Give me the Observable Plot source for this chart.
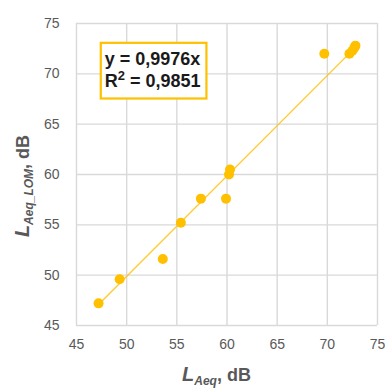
<!DOCTYPE html>
<html>
<head>
<meta charset="utf-8">
<script src="https://cdn.jsdelivr.net/npm/d3@7"></script>
<script src="https://cdn.jsdelivr.net/npm/@observablehq/plot@0.6"></script>
<style>
  body { margin: 0; background: #fff; }
  svg { font-family: "Liberation Sans", "DejaVu Sans", sans-serif; }
</style>
</head>
<body>
<div id="chart"></div>
<script>
// Measured L_Aeq (x) vs L_Aeq_LOM (y), dB
const laeq    = [47.2, 49.3, 53.6, 55.4, 57.4, 59.9, 60.3, 60.2, 69.7, 72.2, 72.5, 72.7, 72.8];
const laeqLom = [47.2, 49.6, 51.6, 55.2, 57.6, 57.6, 60.5, 60.0, 72.0, 72.0, 72.3, 72.6, 72.8];
const ticks = [45, 50, 55, 60, 65, 70, 75];
const slope = 0.9976;
const r2 = "0,9851";
const eqText = "y = 0,9976x";

const points = laeq.map((x, i) => ({x, y: laeqLom[i]}));
const xmin = d3.min(laeq), xmax = d3.max(laeq);
const trend = [{x: xmin, y: slope * xmin}, {x: xmax, y: slope * xmax}];

const orange = "#FFC000";
const grid = "#d9d9d9";

const plot = Plot.plot({
  width: 385,
  height: 391,
  marginLeft: 76,
  marginRight: 8,
  marginTop: 23,
  marginBottom: 66,
  style: {fontSize: "14px", color: "#595959", fontFamily: "Liberation Sans, DejaVu Sans, sans-serif"},
  x: {domain: [45, 75], ticks: ticks, tickSize: 0, tickPadding: 14, label: null},
  y: {domain: [45, 75], ticks: ticks, tickSize: 0, tickPadding: 17, label: null},
  marks: [
    Plot.ruleX(ticks, {stroke: grid, strokeWidth: 1.4}),
    Plot.ruleY(ticks, {stroke: grid, strokeWidth: 1.4}),
    Plot.axisX({ticks: ticks, tickSize: 0, tickPadding: 14, fill: "#595959", label: null}),
    Plot.axisY({ticks: ticks, tickSize: 0, tickPadding: 17, fill: "#595959", label: null}),
    Plot.line(trend, {x: "x", y: "y", stroke: orange, strokeWidth: 1.3, strokeOpacity: 0.85}),
    Plot.dot(points, {x: "x", y: "y", r: 5, fill: orange, stroke: "none"})
  ]
});

const svg = d3.select(plot);
const sx = plot.scale("x"), sy = plot.scale("y");

// Equation box (Excel trendline label)
const bx0 = sx.apply(47.47), bx1 = sx.apply(58.0);
const by0 = sy.apply(73.03), by1 = sy.apply(67.5);
const g = svg.append("g");
g.append("rect")
  .attr("x", bx0).attr("y", by0)
  .attr("width", bx1 - bx0).attr("height", by1 - by0)
  .style("fill", "#ffffff").style("stroke", orange).style("stroke-width", "2.2px");
const tx = g.append("text")
  .style("text-anchor", "start")
  .style("font-size", "18px").style("font-weight", "bold").style("fill", "#1a1a1a")
  .style("font-family", "Liberation Sans, DejaVu Sans, sans-serif");
tx.append("tspan").attr("x", bx0 + 4).attr("y", by0 + 22).text(eqText);
const l2 = tx.append("tspan").attr("x", bx0 + 4).attr("y", by0 + 44);
l2.text("R");
l2.append("tspan").attr("dy", -7).style("font-size", "13px").text("2");
l2.append("tspan").attr("dy", 7).text(" = " + r2);

// Axis titles with subscripts
const xt = svg.append("text")
  .attr("x", (sx.apply(45) + sx.apply(75)) / 2 - 10).attr("y", 381)
  .style("text-anchor", "middle").style("fill", "#595959")
  .style("font-weight", "bold").style("font-size", "18px")
  .style("font-family", "Liberation Sans, DejaVu Sans, sans-serif");
xt.append("tspan").style("font-style", "italic").style("font-size", "20px").text("L");
xt.append("tspan").style("font-style", "italic").style("font-size", "12px").attr("dy", 4).text("Aeq");
xt.append("tspan").attr("dy", -4).text(", dB");

const ycy = (sy.apply(45) + sy.apply(75)) / 2 + 12;
const yt = svg.append("text")
  .attr("transform", `translate(29,${ycy}) rotate(-90)`)
  .style("text-anchor", "middle").style("fill", "#595959")
  .style("font-weight", "bold").style("font-size", "18px")
  .style("font-family", "Liberation Sans, DejaVu Sans, sans-serif");
yt.append("tspan").style("font-style", "italic").style("font-size", "20px").text("L");
yt.append("tspan").style("font-style", "italic").style("font-size", "12px").attr("dy", 4).text("Aeq_LOM");
yt.append("tspan").attr("dy", -4).text(", dB");

document.getElementById("chart").appendChild(plot);
</script>
</body>
</html>
